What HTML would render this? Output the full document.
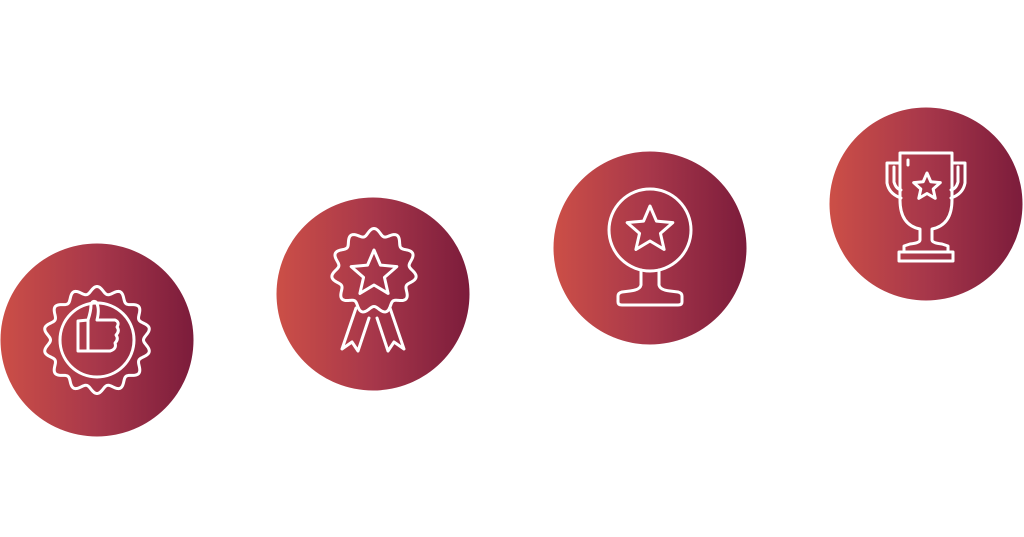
<!DOCTYPE html>
<html><head><meta charset="utf-8"><style>html,body{margin:0;padding:0;background:#fff;width:1024px;height:537px;overflow:hidden}</style></head>
<body>
<svg id="s" width="1024" height="537" viewBox="0 0 1024 537" xmlns="http://www.w3.org/2000/svg">
<defs>
<linearGradient id="g" x1="0" y1="0" x2="1" y2="0">
<stop offset="0" stop-color="#cc4f47"/><stop offset="0.5" stop-color="#a7374a"/><stop offset="1" stop-color="#7c1c3b"/>
</linearGradient>
</defs>
<circle cx="97" cy="340" r="96.5" fill="url(#g)"/>
<circle cx="373" cy="294" r="96.5" fill="url(#g)"/>
<circle cx="650" cy="248" r="96.5" fill="url(#g)"/>
<circle cx="926" cy="204" r="96.5" fill="url(#g)"/>
<g id="icons" fill="none" stroke="#fff" stroke-width="3" stroke-linejoin="round" stroke-linecap="round">
<!-- icon 1 -->
<path id="w1"/>
<circle cx="97" cy="340" r="37"/>
<path d="M78 321 L88 320 Q91 311 91 305 Q92 300 96 302 Q100 308 97 320 L115 320 Q120 322 117 327 Q120 331 116 335 Q119 339 115 343 Q117 349 110 351 L78 351 Z M88 320 L88 351"/>
<!-- icon 2 -->
<path id="w2"/>
<path id="st2"/>
<path d="M356 308 L342 349 L352 342 L358 351 L369 318 M390 308 L404 349 L394 342 L388 351 L377 318"/>
<!-- icon 3 -->
<circle cx="650" cy="230" r="41"/>
<path id="st3"/>
<path d="M641 270 L641 285 Q640 290 630 291 L622 292 Q618 293 618 296 L618 302 Q618 305 622 305 L678 305 Q682 305 682 302 L682 296 Q682 293 678 292 L670 291 Q660 290 659 285 L659 270"/>
<!-- icon 4 -->
<path d="M900 153 L952 153 L952 200 Q952 225 932 229 L932 240 Q932 243 942 244 L948 246 L948 252 L904 252 L904 246 L910 244 Q920 243 920 240 L920 229 Q900 225 900 200 Z"/>
<path d="M900 163 L887 163 L887 183 Q889 194 901 198 M894 167 L894 182 Q896 189 901 190"/>
<path d="M952 163 L965 163 L965 183 Q963 194 951 198 M958 167 L958 182 Q956 189 951 190"/>
<path d="M899 252 L953 252 L953 261 L899 261 Z M908 160 L908 165"/>
<path id="st4"/>
</g>
</svg>
<script>
function wavy(cx,cy,R,a,n){let d="";for(let i=0;i<=360;i++){const t=i*Math.PI/180;const r=R+a*Math.cos(n*t);d+=(i?"L":"M")+(cx+r*Math.sin(t)).toFixed(2)+" "+(cy-r*Math.cos(t)).toFixed(2);}return d+"Z";}
function star(cx,cy,R,r){let d="";for(let i=0;i<10;i++){const t=i*Math.PI/5;const rr=i%2?r:R;d+=(i?"L":"M")+(cx+rr*Math.sin(t)).toFixed(2)+" "+(cy-rr*Math.cos(t)).toFixed(2);}return d+"Z";}
document.getElementById("w1").setAttribute("d",wavy(97,340,50,3.5,14));
document.getElementById("w2").setAttribute("d",wavy(374,271,39,3.5,11));
document.getElementById("st2").setAttribute("d",star(374,274,24,11));
document.getElementById("st3").setAttribute("d",star(650,230,24,11));
document.getElementById("st4").setAttribute("d",star(927,187,14,6.5));
</script>
</body></html>
